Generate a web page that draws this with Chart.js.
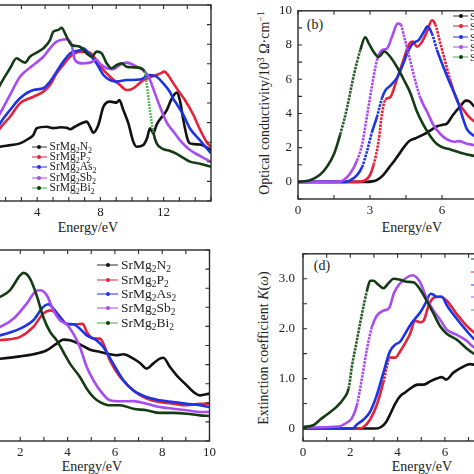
<!DOCTYPE html>
<html lang="en">
<head>
<meta charset="UTF-8">
<title>SrMg2X2 optical spectra</title>
<script src="https://cdn.jsdelivr.net/npm/chart.js@4.4.1/dist/chart.umd.min.js"></script>
<style>
  html, body { margin: 0; padding: 0; background: #fff; }
  body { width: 474px; height: 474px; overflow: hidden; position: relative;
         font-family: 'Liberation Serif', 'Times New Roman', serif; color: #222; }
  canvas { position: absolute; }
  .lbl { position: absolute; white-space: nowrap; font-size: 14px; line-height: 1;
         transform: translate(-50%, -50%); }
  .rot { transform: translate(-50%, -50%) rotate(-90deg); }
  .kl { position: absolute; height: 0; border-top: 1.5px solid; transform: translateY(-50%); }
  .kd { position: absolute; width: 4px; height: 4px; border-radius: 50%; transform: translate(-50%, -50%); }
  .kt { position: absolute; white-space: nowrap; line-height: 1; transform: translateY(-50%); }
  sub { font-size: 70%; vertical-align: -0.3em; line-height: 0; }
  sup { font-size: 70%; vertical-align: 0.5em; line-height: 0; }
</style>
</head>
<body>

<div class="lbl" style="left:88px;top:228px">Energy/eV</div>
<div class="lbl" style="left:412px;top:228px">Energy/eV</div>
<div class="lbl" style="left:92px;top:467px">Energy/eV</div>
<div class="lbl" style="left:422px;top:467px">Energy/eV</div>
<div class="lbl rot" style="left:265px;top:103px">Optical conductivity/10<sup>3</sup> Ω·cm<sup>−1</sup></div>
<div class="lbl rot" style="left:264px;top:348px">Extinction coefficient <i>K</i>(<i>ω</i>)</div>
<div class="lbl" style="left:315px;top:25px">(b)</div>
<div class="lbl" style="left:322px;top:266px">(d)</div>

<script>
// series names and colours
const names = ['SrMg₂N₂', 'SrMg₂P₂', 'SrMg₂As₂', 'SrMg₂Sb₂', 'SrMg₂Bi₂'];
const colors = ['#111111', '#e8213a', '#1c34e6', '#a84cf0', '#143c14'];
const keyColors = ['#333333', '#e8213a', '#1c34e6', '#a84cf0', '#45b045'];

// (a) energy (eV), value
const aN2 = [[0,2.4],[1.0,2.6],[1.65,2.77],[2.3,2.85],[2.91,2.94],[3.4,3.15],[3.76,3.37],[3.97,3.71],[4.6,3.79],[5.02,3.72],[5.5,3.76],[5.86,3.74],[6.08,3.66],[6.4,3.8],[6.71,3.93],[7.13,4.05],[7.34,3.79],[7.55,3.49],[7.87,3.88],[8.19,4.81],[8.61,5.07],[9.03,5.02],[9.2,5.15],[9.45,4.64],[9.77,3.96],[10.08,3.03],[10.3,2.77],[10.72,2.86],[10.95,3.2],[11.14,3.71],[11.35,3.46],[11.56,3.9],[12.2,4.64],[12.5,5.2],[12.83,5.53],[13.04,5.1],[13.25,4.13],[13.5,3.2],[13.67,2.94],[14.3,2.88],[15,2.6]];
const aP2 = [[0,2.2],[1.0,2.9],[1.65,3.71],[2.28,4.3],[2.91,4.98],[3.76,5.32],[4.39,5.58],[4.81,5.92],[5.23,6.51],[5.65,6.94],[6.08,7.36],[6.71,7.62],[7.34,7.57],[7.66,7.28],[7.97,6.9],[8.61,6.34],[9.24,5.92],[9.66,5.66],[10.08,5.75],[10.72,6.17],[11.14,6.31],[11.77,6.5],[12.05,6.6],[12.3,6.4],[12.62,6.0],[13.04,5.5],[13.35,5.15],[13.88,4.4],[14.3,3.65],[14.73,3.0],[15,2.75]];
const aAs2 = [[0,2.0],[1.0,2.9],[1.65,3.96],[2.28,4.64],[2.91,5.24],[3.76,5.66],[4.39,5.75],[4.81,6.09],[5.23,6.6],[5.65,7.11],[6.08,7.53],[6.71,7.7],[6.92,7.79],[7.34,7.45],[7.76,7.02],[8.19,6.43],[8.61,6.17],[9.03,6.09],[9.66,6.17],[10.51,6.2],[11.14,6.43],[11.56,6.34],[11.98,6.0],[12.41,5.55],[12.62,5.2],[12.83,4.95],[13.25,4.4],[13.67,3.7],[14.3,3.1],[15,2.43]];
const aSb2 = [[0,2.5],[1.0,3.5],[1.65,4.47],[2.28,5.41],[2.91,6.34],[3.76,6.94],[4.39,7.36],[4.81,7.79],[5.23,8.13],[5.86,8.25],[6.18,7.96],[6.39,7.19],[6.81,7.02],[7.34,7.06],[7.76,7.2],[7.97,7.0],[8.4,6.77],[8.82,6.72],[9.24,6.95],[9.66,7.06],[10.3,6.85],[10.82,6.6],[11.14,6.17],[11.45,5.49],[11.77,4.81],[12.2,4.0],[12.62,3.55],[13.14,3.0],[13.67,2.6],[14.3,2.3],[15,2.0]];
const aBi2 = [[0,3.5],[1.0,4.8],[1.65,5.92],[2.28,6.77],[2.7,7.28],[2.91,7.19],[3.23,7.06],[3.54,7.36],[3.97,7.57],[4.39,7.79],[4.81,8.21],[5.02,8.64],[5.34,8.73],[5.55,8.84],[5.76,8.55],[5.97,8.21],[6.18,7.96],[6.71,7.87],[7.13,7.53],[7.45,7.36],[7.76,7.62],[8.08,7.53],[8.4,7.02],[8.71,6.77],[9.03,6.94],[9.35,7.02],[9.66,6.85],[10.08,6.82],[10.6,6.77],[10.78,6.6],[10.93,6.0],[11.14,4.6],[11.35,3.5],[11.56,2.94],[11.98,2.65],[12.41,2.55],[12.83,2.4],[13.25,2.2],[13.67,2.01],[14.3,1.9],[15,1.75]];

// (b) optical conductivity, 10^3 Ohm^-1 cm^-1
const bN2 = [[0,0],[2.8,0],[3.1,0.03],[3.3,0.12],[3.55,0.4],[3.8,0.85],[4.0,1.2],[4.2,1.6],[4.4,2.0],[4.65,2.4],[4.9,2.55],[5.2,2.75],[5.5,3.0],[5.8,3.25],[6.07,3.35],[6.2,3.4],[6.45,3.9],[6.75,4.4],[7.0,4.75],[7.15,4.7],[7.35,4.4],[7.6,4.2],[8,4.0],[9,3.4],[10,3.0]];
const bP2 = [[0,0],[2.5,0],[2.8,0.1],[3.0,0.4],[3.15,1.0],[3.36,2.4],[3.5,4.0],[3.64,4.8],[3.85,4.96],[4.12,6.0],[4.4,7.15],[4.61,8.0],[4.78,8.2],[4.96,7.9],[5.17,8.2],[5.38,8.8],[5.58,9.45],[5.72,9.2],[5.93,8.1],[6.14,7.0],[6.35,5.9],[6.63,4.75],[6.9,4.2],[7.05,3.92],[7.33,3.54],[8,3.0],[9,2.6],[10,2.3]];
const bAs2 = [[0,0],[2.0,0],[2.18,0.1],[2.46,0.4],[2.67,0.87],[2.88,1.82],[3.08,2.9],[3.29,3.8],[3.5,4.9],[3.64,5.35],[3.85,5.63],[4.13,6.1],[4.4,6.96],[4.61,7.72],[4.82,8.14],[5.03,8.29],[5.24,8.76],[5.4,9.09],[5.58,8.67],[5.79,7.72],[6.07,6.67],[6.35,5.7],[6.63,4.8],[6.9,3.6],[7.03,3.1],[7.33,2.7],[8,2.4],[9,2.1],[10,1.9]];
const bSb2 = [[0,0],[1.6,0],[1.9,0.1],[2.18,0.5],[2.46,1.25],[2.67,2.2],[2.88,3.9],[3.08,5.6],[3.29,7.1],[3.5,7.7],[3.71,7.8],[3.92,8.5],[4.15,9.25],[4.28,9.2],[4.42,8.5],[4.64,7.3],[4.85,6.1],[5.1,4.9],[5.38,4.1],[5.65,3.3],[5.93,2.8],[6.19,2.5],[6.5,2.35],[6.7,2.38],[7.0,2.25],[7.33,2.15],[8,1.9],[9,1.7],[10,1.5]];
const bBi2 = [[0,0],[0.5,0.1],[0.9,0.4],[1.2,0.87],[1.5,1.63],[1.76,2.78],[2.04,4.3],[2.32,6.2],[2.6,7.72],[2.8,8.45],[2.95,8.1],[3.15,7.6],[3.36,7.3],[3.6,7.62],[3.85,7.3],[4.13,6.7],[4.4,6.0],[4.68,5.2],[4.96,4.1],[5.24,3.3],[5.5,2.7],[5.8,2.2],[6.07,2.0],[6.35,1.9],[6.77,1.7],[7.33,1.52],[8,1.4],[9,1.3],[10,1.2]];

// (c) energy (eV), value
const cN2 = [[0,4.2],[1.14,4.31],[1.99,4.43],[2.55,4.54],[3.12,4.75],[3.54,5.1],[3.82,5.31],[4.1,5.27],[4.52,5.06],[4.95,4.78],[5.37,4.66],[5.79,4.54],[6.07,4.49],[6.36,4.54],[6.78,4.31],[7.06,4.08],[7.34,3.79],[7.62,4.05],[7.9,4.31],[8.05,4.36],[8.33,3.87],[8.61,3.44],[9.04,2.91],[9.32,2.57],[9.6,2.39],[10,2.48]];
const cP2 = [[0,5.0],[1.14,5.27],[1.99,5.45],[2.55,5.97],[2.97,6.67],[3.26,6.84],[3.47,6.75],[3.68,6.49],[3.96,6.11],[4.38,6.11],[4.64,6.14],[4.81,5.71],[5.09,5.36],[5.37,5.36],[5.51,5.1],[5.79,4.22],[6.22,3.35],[6.78,2.65],[7.34,2.22],[7.9,2.04],[8.47,1.95],[9.04,1.87],[9.6,1.95],[10,1.95]];
const cAs2 = [[0,5.3],[1.14,5.53],[1.99,5.88],[2.55,6.32],[2.97,7.02],[3.19,7.16],[3.4,6.93],[3.68,6.49],[3.96,6.14],[4.24,6.11],[4.52,5.88],[4.81,5.53],[5.23,5.27],[5.51,4.92],[5.93,4.05],[6.36,3.18],[6.78,2.65],[7.34,2.3],[7.9,2.13],[8.47,2.04],[9.04,1.95],[9.6,1.87],[10,1.78]];
const cSb2 = [[0,5.6],[1.14,5.97],[1.71,6.4],[2.27,7.19],[2.62,7.8],[2.83,7.89],[3.12,7.63],[3.4,6.84],[3.68,6.32],[3.96,6.11],[4.24,5.62],[4.52,4.92],[4.81,3.87],[5.09,3.18],[5.37,2.65],[5.79,2.13],[6.22,2.08],[6.78,2.09],[7.34,1.95],[7.9,1.78],[8.47,1.69],[9.04,1.61],[9.6,1.52],[10,1.52]];
const cBi2 = [[0,6.9],[1.14,7.54],[1.56,7.89],[1.99,8.67],[2.13,8.8],[2.41,8.5],[2.69,7.63],[2.97,6.49],[3.26,5.71],[3.54,5.27],[3.82,4.66],[4.1,4.05],[4.52,3.35],[4.81,2.74],[5.09,2.3],[5.37,2.04],[5.79,1.87],[6.22,1.87],[6.78,1.69],[7.34,1.61],[7.9,1.47],[8.47,1.47],[9.04,1.43],[9.6,1.34],[10,1.31]];

// (d) extinction coefficient K
const dN2 = [[0,0],[3.1,0],[3.3,0.03],[3.5,0.12],[3.7,0.3],[3.9,0.5],[4.11,0.65],[4.32,0.72],[4.53,0.8],[4.85,0.88],[5.1,0.88],[5.4,0.95],[5.65,1.0],[5.87,1.03],[6.05,0.98],[6.36,1.12],[6.7,1.22],[7.05,1.29],[7.25,1.28],[8,1.3],[9,1.2],[10,1.1]];
const dP2 = [[0,0],[2.4,0],[2.56,0.03],[2.84,0.18],[3.12,0.47],[3.4,0.93],[3.68,1.42],[3.9,1.42],[4.11,1.55],[4.32,1.71],[4.53,1.9],[4.74,2.16],[4.96,2.13],[5.1,2.16],[5.31,2.46],[5.52,2.62],[5.8,2.64],[6.06,2.57],[6.49,2.3],[6.91,2.06],[7.22,1.93],[8,1.7],[9,1.5],[10,1.35]];
const dAs2 = [[0,0],[2.1,0],[2.28,0.08],[2.56,0.18],[2.84,0.34],[3.12,0.67],[3.4,1.12],[3.68,1.55],[3.9,1.68],[4.11,1.74],[4.32,1.9],[4.53,2.07],[4.74,2.2],[4.96,2.33],[5.17,2.5],[5.4,2.7],[5.52,2.68],[5.65,2.64],[5.87,2.64],[6.08,2.47],[6.5,2.2],[6.93,1.95],[7.22,1.8],[8,1.6],[9,1.45],[10,1.3]];
const dSb2 = [[0,0.02],[1.5,0.04],[1.86,0.12],[2.07,0.21],[2.28,0.47],[2.49,1.0],[2.7,1.58],[2.91,2.03],[3.12,2.26],[3.4,2.36],[3.65,2.42],[3.85,2.72],[4.09,2.9],[4.37,3.02],[4.62,3.07],[4.94,2.94],[5.22,2.62],[5.52,2.36],[5.8,2.18],[6.08,1.98],[6.49,1.88],[6.91,1.76],[7.22,1.63],[8,1.5],[9,1.4],[10,1.3]];
const dBi2 = [[0,0.03],[0.45,0.07],[0.73,0.18],[1.01,0.28],[1.43,0.44],[1.72,0.6],[1.93,0.8],[2.07,1.25],[2.28,1.77],[2.49,2.29],[2.7,2.75],[2.84,2.96],[2.98,2.96],[3.19,2.88],[3.4,2.81],[3.61,2.91],[3.83,3.0],[4.11,2.98],[4.39,2.94],[4.67,2.93],[4.96,2.78],[5.24,2.55],[5.52,2.3],[5.8,2.05],[6.08,1.9],[6.5,1.78],[6.93,1.6],[7.22,1.5],[8,1.35],[9,1.25],[10,1.15]];

Chart.defaults.font.family = "'Liberation Serif', 'Times New Roman', serif";
Chart.defaults.font.size = 13;
Chart.defaults.color = '#222';

// box round the plot area plus inward tick marks on all four sides
const frameTicks = {
  id: 'frameTicks',
  afterDatasetsDraw(chart, args, o) {
    const { ctx, chartArea: a, scales: { x, y } } = chart;
    ctx.save();
    ctx.strokeStyle = '#2a2a2a';
    ctx.lineWidth = 1.4;
    ctx.strokeRect(a.left, a.top, a.right - a.left, a.bottom - a.top);
    ctx.lineWidth = 1.1;
    ctx.beginPath();
    const run = (scale, step, fn) => {
      if (!step) return;
      const k0 = Math.ceil(scale.min / step - 1e-6), k1 = Math.floor(scale.max / step + 1e-6);
      for (let k = k0; k <= k1; k++) fn(scale.getPixelForValue(k * step));
    };
    const L = 4;
    run(x, o.bottom, p => { ctx.moveTo(p, a.bottom); ctx.lineTo(p, a.bottom - L); });
    run(x, o.top, p => { ctx.moveTo(p, a.top); ctx.lineTo(p, a.top + L); });
    run(y, o.left, p => { ctx.moveTo(a.left, p); ctx.lineTo(a.left + L, p); });
    run(y, o.right, p => { ctx.moveTo(a.right, p); ctx.lineTo(a.right - L, p); });
    ctx.stroke();
    ctx.restore();
  }
};

// steep stretches show the individual plot markers in the original
function steep(c, lim) {
  const dx = c.p1.parsed.x - c.p0.parsed.x;
  return !!lim && dx > 0 && Math.abs(c.p1.parsed.y - c.p0.parsed.y) / dx > lim;
}

function panel(p) {
  const cv = document.createElement('canvas');
  cv.width = p.w; cv.height = p.h;
  cv.style.left = p.left + 'px';
  cv.style.top = p.top + 'px';
  document.body.appendChild(cv);
  return new Chart(cv, {
    type: 'line',
    data: {
      datasets: p.series.map((s, i) => {
        const lim = (p.greenOnly && i !== 4) ? 0 : p.steep;
        return {
          label: names[i],
          data: s.map(q => ({ x: q[0], y: q[1] })),
          borderColor: colors[i],
          borderWidth: 2.6,
          pointRadius: 0,
          cubicInterpolationMode: 'monotone',
          order: 4 - i,
          segment: {
            borderColor: c => (i === 4 && steep(c, lim)) ? p.green : undefined,
            borderDash: c => steep(c, lim) ? p.dash : undefined
          }
        };
      })
    },
    options: {
      responsive: false,
      animation: false,
      devicePixelRatio: 1,
      layout: { padding: { left: 0, top: 10, right: 10, bottom: 0 } },
      plugins: { legend: { display: false }, tooltip: { enabled: false }, frameTicks: p.marks },
      scales: {
        x: {
          type: 'linear', min: p.x[0], max: p.x[1],
          grid: { display: false, drawTicks: false }, border: { display: false },
          ticks: { stepSize: p.x[2], includeBounds: false, padding: 4, maxRotation: 0, autoSkip: false },
          afterFit: s => { s.height = 30; }
        },
        y: {
          min: p.y[0], max: p.y[1],
          grid: { display: false, drawTicks: false }, border: { display: false },
          ticks: { display: !!p.fmt, stepSize: p.y[2], includeBounds: false, autoSkip: false,
                   padding: p.pad || 6, callback: p.fmt || (v => '') },
          afterFit: s => { s.width = p.yw; }
        }
      }
    },
    plugins: [frameTicks]
  });
}

// (a) top left
panel({ left: -46, top: -5, w: 267, h: 236, yw: 20,
        x: [0, 15, 4], y: [0, 10, 1],
        series: [aN2, aP2, aAs2, aSb2, aBi2],
        steep: 3.5, greenOnly: true, green: '#38a838', dash: [1.5, 1.5],
        marks: { bottom: 1, top: 1.5, right: 1 } });

// (b) top right
panel({ left: 253, top: -3, w: 295, h: 232, yw: 45, pad: 6,
        x: [0, 10, 3], y: [-1, 10, 1],
        series: [bN2, bP2, bAs2, bSb2, bBi2],
        steep: 4.5, green: '#2a5e2a', dash: [2.5, 1],
        fmt: v => (v % 2 === 0 ? String(v) : ''),
        marks: { bottom: 1.5, top: 1.5, left: 1, right: 1 } });

// (c) bottom left
panel({ left: -47, top: 240, w: 267, h: 231, yw: 20,
        x: [0, 10, 2], y: [0, 10, 1],
        series: [cN2, cP2, cAs2, cSb2, cBi2],
        marks: { bottom: 1, top: 1, right: 1 } });

// (d) bottom right
panel({ left: 258, top: 238, w: 292, h: 233, yw: 45, pad: 8,
        x: [0, 10, 2], y: [-0.25, 3.5, 1],
        series: [dN2, dP2, dAs2, dSb2, dBi2],
        steep: 1.7, green: '#2a5e2a', dash: [2.5, 1],
        fmt: v => (v === 0 ? '0' : Number.isInteger(v) ? v.toFixed(1) : ''),
        marks: { bottom: 1, top: 1, left: 0.5, right: 0.5 } });

// legends as positioned text
function key(x0, x1, tx, y0, dy, size) {
  names.forEach((n, i) => {
    const y = y0 + dy * i;
    const ln = document.createElement('div');
    ln.className = 'kl';
    ln.style.cssText = `left:${x0}px;top:${y}px;width:${x1 - x0}px;border-top-color:${keyColors[i]}`;
    document.body.appendChild(ln);
    const dot = document.createElement('div');
    dot.className = 'kd';
    dot.style.cssText = `left:${(x0 + x1) / 2}px;top:${y}px;background:${colors[i]}`;
    document.body.appendChild(dot);
    const t = document.createElement('div');
    t.className = 'kt';
    t.style.cssText = `left:${tx}px;top:${y}px;font-size:${size}px`;
    t.innerHTML = n.replace(/₂/g, '<sub>2</sub>');
    document.body.appendChild(t);
  });
}
key(31.5, 47, 49.5, 147, 10.2, 11.5);
key(453, 468, 470, 16, 10.3, 11);
key(97, 118, 121, 265.3, 14.35, 13.5);
key(471, 480, 482, 258.7, 12.9, 11);
</script>
</body>
</html>
